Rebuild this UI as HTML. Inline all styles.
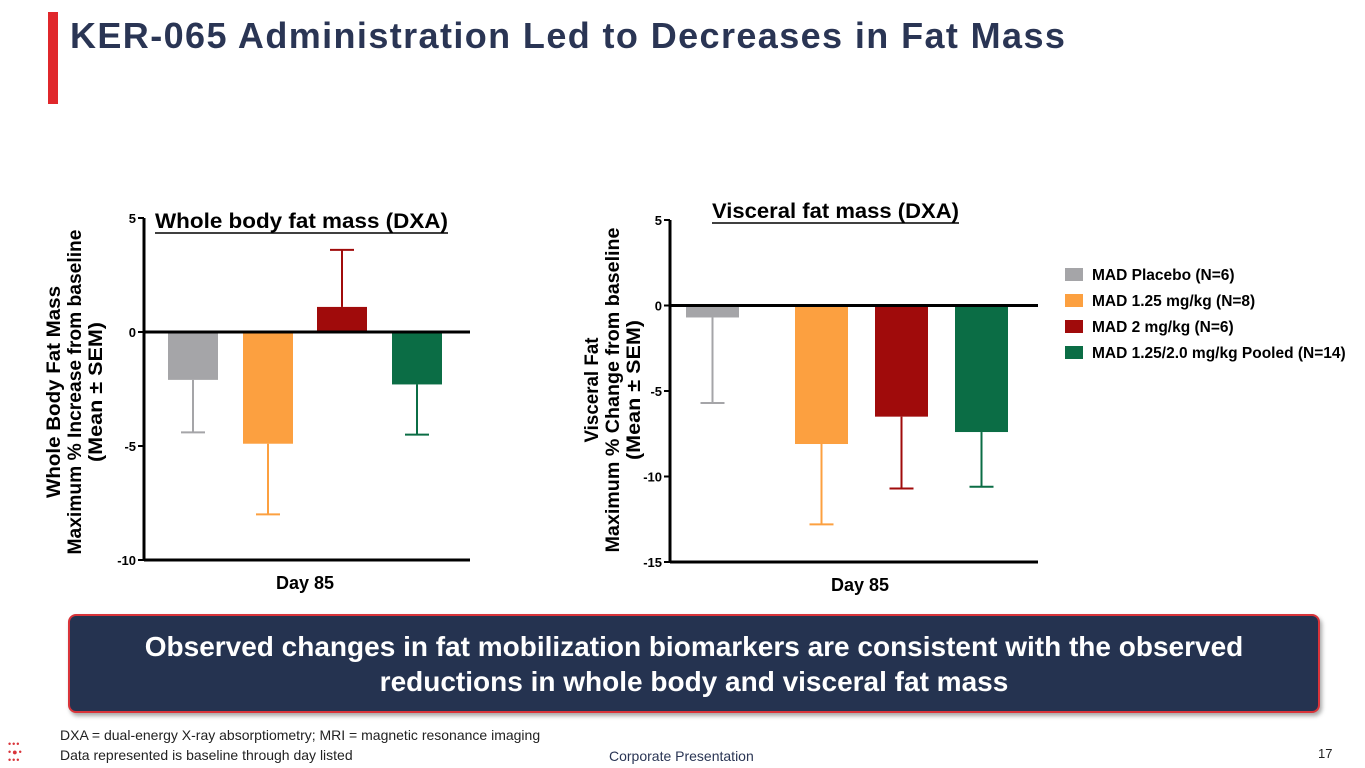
<!DOCTYPE html>
<html><head><meta charset="utf-8"><style>
body{margin:0;width:1365px;height:768px;background:#fff;position:relative;overflow:hidden;font-family:"Liberation Sans",sans-serif}
.abs{position:absolute}
</style></head><body>
<div class="abs" style="left:48px;top:12px;width:10px;height:92px;background:#e0272b"></div>
<div class="abs" style="left:70px;top:15px;font-size:36px;letter-spacing:1.4px;font-weight:bold;color:#2a3554;white-space:nowrap">KER-065 Administration Led to Decreases in Fat Mass</div>
<svg class="abs" style="left:0;top:0" width="1365" height="768" id="svg"></svg>
<div class="abs" style="left:68px;top:614px;width:1248px;height:95px;background:#253350;border:2px solid #d9343a;border-radius:8px;box-shadow:2px 3px 4px rgba(0,0,0,.35);color:#fff;font-weight:bold;font-size:28px;text-align:center;line-height:35px;display:flex;align-items:center;justify-content:center">Observed changes in fat mobilization biomarkers are consistent with the observed<br>reductions in whole body and visceral fat mass</div>
<div class="abs" style="left:60px;top:727px;font-size:14px;color:#222">DXA = dual-energy X-ray absorptiometry; MRI = magnetic resonance imaging</div>
<div class="abs" style="left:60px;top:747px;font-size:14px;color:#222">Data represented is baseline through day listed</div>
<div class="abs" style="left:609px;top:748px;font-size:14px;color:#2a3554">Corporate Presentation</div>
<div class="abs" style="left:1318px;top:746px;font-size:13px;color:#222">17</div>
<div class="abs" style="left:8px;top:740px;width:24px;height:26px;color:#d9343a;font-size:9px;line-height:8px;letter-spacing:1px">•••<br>•●•<br>•••</div>
<script>
const categories=["MAD Placebo (N=6)","MAD 1.25 mg/kg (N=8)","MAD 2 mg/kg (N=6)","MAD 1.25/2.0 mg/kg Pooled (N=14)"];
const colors=["#a5a5a8","#fca040","#a00b0b","#0b6d45"];
const wholeMeans=[-2.1,-4.9,1.1,-2.3];
const wholeErr=[-4.4,-8.0,3.6,-4.5];
const wholeTicks=[5,0,-5,-10];
const visMeans=[-0.7,-8.1,-6.5,-7.4];
const visErr=[-5.7,-12.8,-10.7,-10.6];
const visTicks=[5,0,-5,-10,-15];
const svg=document.getElementById('svg');const NS='http://www.w3.org/2000/svg';
function mk(t,a,p){const e=document.createElementNS(NS,t);for(const k in a)e.setAttribute(k,a[k]);(p||svg).appendChild(e);return e;}
function chart(cfg){
 const y=v=>cfg.y0+(cfg.top-v)*(cfg.y1-cfg.y0)/(cfg.top-cfg.bot);
 const g=mk('g',{});
 cfg.means.forEach((m,i)=>{
  const x=cfg.bx[i];const cx=x+cfg.bw/2;
  const ey=y(cfg.err[i]);mk('line',{x1:cx,x2:cx,y1:y(m),y2:ey,stroke:colors[i],'stroke-width':2},g);
  mk('line',{x1:cx-12,x2:cx+12,y1:ey,y2:ey,stroke:colors[i],'stroke-width':2},g);
  const r=mk('rect',{x:x,width:cfg.bw,y:Math.min(y(m),y(0)),height:Math.abs(y(m)-y(0)),fill:colors[i]},g);
  
  
 });
 const ax=mk('line',{x1:cfg.ax,x2:cfg.ax,y1:y(cfg.top),y2:y(cfg.bot),stroke:'#000','stroke-width':3},g);
 
 mk('line',{x1:cfg.ax,x2:cfg.axEnd,y1:y(0),y2:y(0),stroke:'#000','stroke-width':3},g);
 mk('line',{x1:cfg.ax,x2:cfg.axEnd,y1:y(cfg.bot),y2:y(cfg.bot),stroke:'#000','stroke-width':3},g);
 cfg.ticks.forEach(t=>{mk('line',{x1:cfg.ax-6,x2:cfg.ax,y1:y(t),y2:y(t),stroke:'#000','stroke-width':2},g);
  const tx=mk('text',{x:cfg.ax-8,y:y(t)+5,'text-anchor':'end','font-size':13,'font-weight':'bold'},g);tx.textContent=t;
  });
 const xl=mk('text',{x:cfg.xlx,y:y(cfg.bot)+29,'text-anchor':'middle','font-size':18,'font-weight':'bold'},g);xl.textContent='Day 85';
 
 const tt=mk('text',{x:cfg.tx,y:cfg.ty,'font-size':21,'font-weight':'bold',textLength:cfg.tw,lengthAdjust:'spacingAndGlyphs'},g);tt.textContent=cfg.title;
 
 mk('line',{x1:cfg.tx,x2:cfg.tx+cfg.tw,y1:cfg.ty+5,y2:cfg.ty+5,stroke:'#000','stroke-width':1.5},g);
 cfg.ylab.forEach((s,i)=>{const t=mk('text',{transform:`translate(${cfg.ylx+i*21},${cfg.ylc}) rotate(-90)`,'text-anchor':'middle','font-size':19,'font-weight':'bold',textLength:cfg.yll[i],lengthAdjust:'spacingAndGlyphs'},g);t.textContent=s;
  });
}
chart({name:'whole-body-chart',key:'whole',means:wholeMeans,err:wholeErr,ticks:wholeTicks,top:5,bot:-10,y0:218,y1:560,bx:[168,243,317,392],bw:50,ax:144,axEnd:470,xlx:305,tx:155,ty:228,tw:293,title:'Whole body fat mass (DXA)',ylx:60,ylc:392,yll:[212,325,140],ylab:['Whole Body Fat Mass','Maximum % Increase from baseline','(Mean ±  SEM)']});
chart({name:'visceral-chart',key:'visceral',means:visMeans,err:visErr,ticks:visTicks,top:5,bot:-15,y0:220,y1:562,bx:[686,795,875,955],bw:53,ax:670,axEnd:1038,xlx:860,tx:712,ty:218,tw:247,title:'Visceral fat mass (DXA)',ylx:598,ylc:390,yll:[105,325,140],ylab:['Visceral Fat','Maximum % Change from baseline','(Mean ±  SEM)']});
categories.forEach((c,i)=>{
 const g=mk('g',{});
 
 
 mk('rect',{x:1065,y:268+i*26,width:18,height:13,fill:colors[i]},g);
 const t=mk('text',{x:1092,y:280+i*26,'font-size':15.5,'font-weight':'bold'},g);t.textContent=c;
});
</script>
</body></html>
